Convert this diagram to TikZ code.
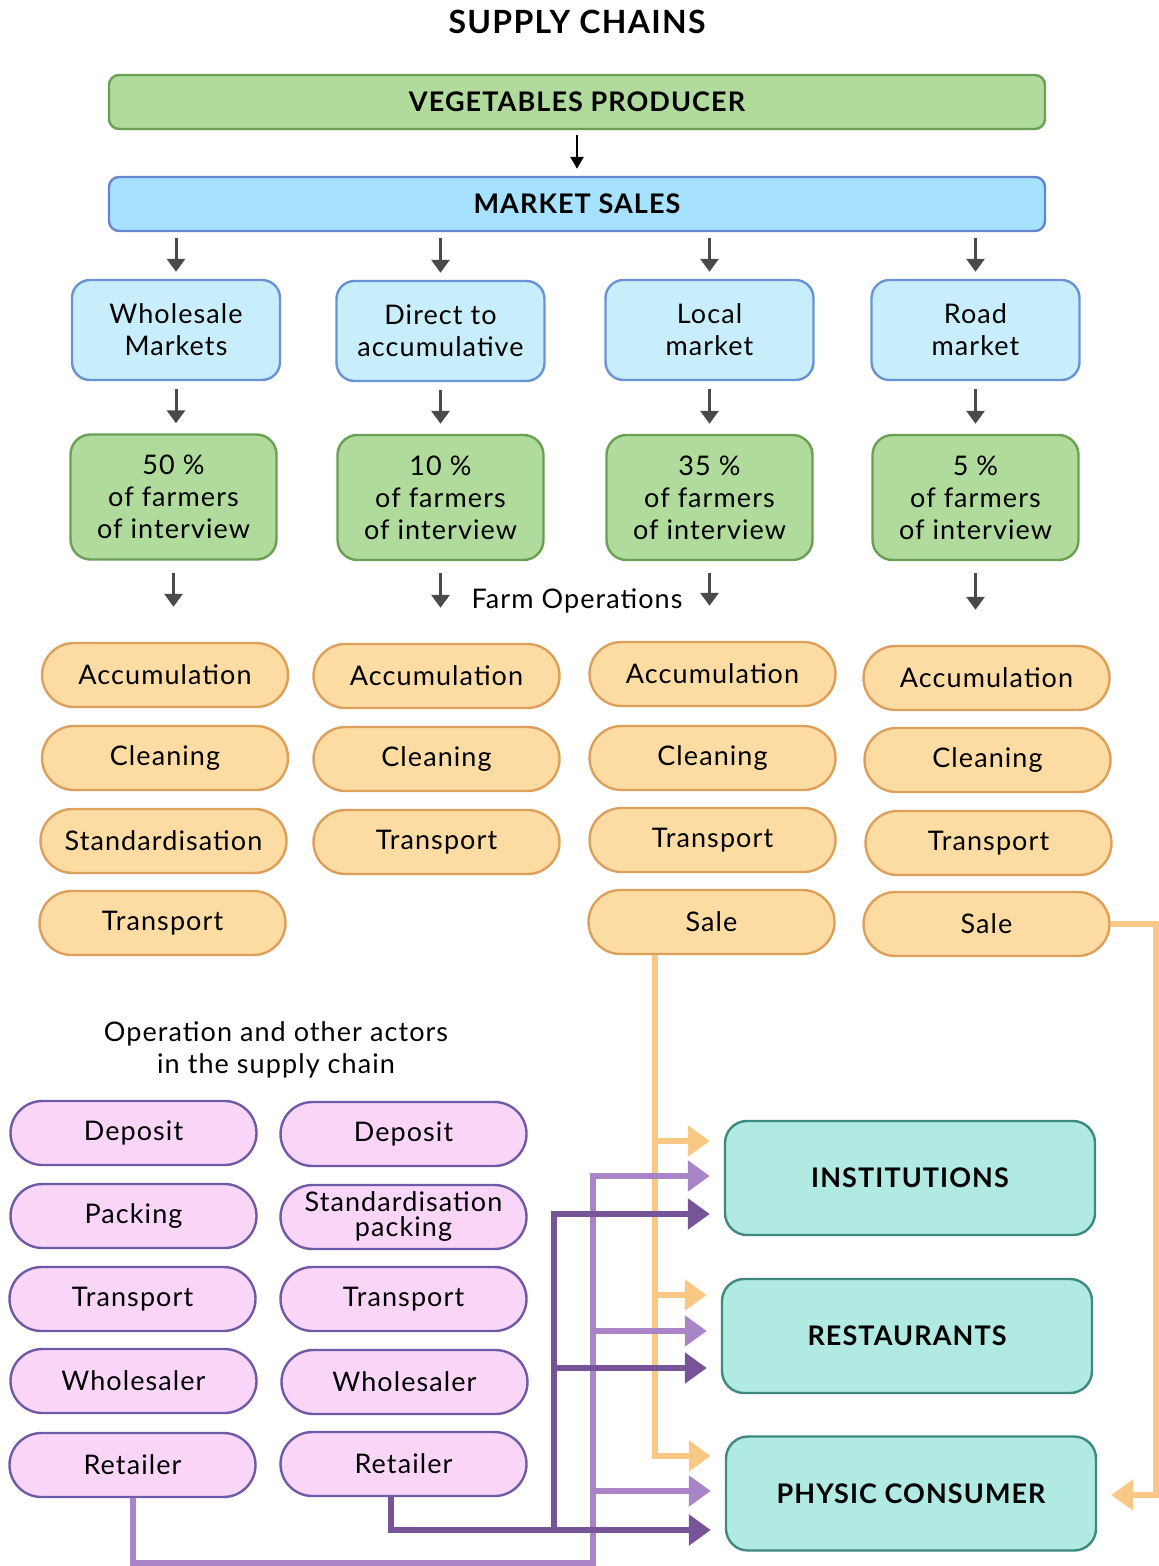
\documentclass[tikz,border=0pt]{standalone}
\usepackage{fontspec}
\setmainfont{Lato}[LetterSpace=4]
\usetikzlibrary{arrows.meta}

\definecolor{prodgreen}{HTML}{B0DB9C}
\definecolor{prodline}{HTML}{6BA054}
\definecolor{salesblue}{HTML}{A6E2FD}
\definecolor{salesline}{HTML}{6586CC}
\definecolor{chanblue}{HTML}{C8EEFC}
\definecolor{chanline}{HTML}{6A93D6}
\definecolor{opfill}{HTML}{FDDCA4}
\definecolor{opline}{HTML}{DDA05A}
\definecolor{actorfill}{HTML}{F9D6F8}
\definecolor{actorline}{HTML}{6E5AA6}
\definecolor{buyerfill}{HTML}{B0EAE3}
\definecolor{buyerline}{HTML}{3E8A80}
\definecolor{saleorange}{HTML}{F8C884}
\definecolor{retpurple}{HTML}{A984C6}
\definecolor{wspurple}{HTML}{775497}
\definecolor{arrowgray}{HTML}{4A4A4A}

\begin{document}
\begin{tikzpicture}[x=0.5pt, y=-0.5pt,
  every node/.style={font=\fontsize{13.5}{16}\selectfont, align=center, text=black},
  bar/.style={line width=1.2pt, rounded corners=5pt, minimum width=468pt, minimum height=27pt,
    font=\fontsize{13.5}{16}\selectfont\bfseries},
  channel/.style={fill=chanblue, draw=chanline, line width=1.2pt, rounded corners=9pt,
    minimum width=104pt, minimum height=50pt},
  share/.style={fill=prodgreen, draw=prodline, line width=1.2pt, rounded corners=10pt,
    minimum width=103pt, minimum height=62.5pt},
  op/.style={fill=opfill, draw=opline, line width=1.2pt, rounded corners=16pt,
    minimum width=123pt, minimum height=32pt},
  actor/.style={fill=actorfill, draw=actorline, line width=1.2pt, rounded corners=16pt,
    minimum width=123pt, minimum height=32pt},
  buyer/.style={fill=buyerfill, draw=buyerline, line width=1.2pt, rounded corners=11pt,
    minimum width=185pt, minimum height=57pt, font=\fontsize{13.5}{16}\selectfont\bfseries},
  grayarrow/.style={-{Triangle[length=6.5pt, width=9pt]}, arrowgray, line width=1.5pt},
  saleflow/.style={-{Triangle[length=11pt, width=15pt]}, saleorange, line width=3pt, shorten >=7pt},
  retflow/.style={-{Triangle[length=11pt, width=15pt]}, retpurple, line width=3pt, shorten >=7pt},
  wsflow/.style={-{Triangle[length=11pt, width=15pt]}, wspurple, line width=3pt, shorten >=7pt}]

  \useasboundingbox (0,0) rectangle (1159,1566);

  % Title
  \node[font=\fontsize{16}{18}\selectfont\bfseries] (title) at (577,22) {SUPPLY CHAINS};

  % Producer and market
  \node[bar, fill=prodgreen, draw=prodline] (prod) at (577,102) {VEGETABLES PRODUCER};
  \node[bar, fill=salesblue, draw=salesline] (sales) at (577,204) {MARKET SALES};
  \draw[-{Triangle[length=6pt, width=6.5pt]}, line width=1.3pt, shorten <=2.5pt, shorten >=3.5pt] (prod) -- (sales);

  % Sales channels
  \node[channel] (whole) at (176,330) {Wholesale\\Markets};
  \node[channel] (direct) at (440.5,331) {Direct to\\accumulative};
  \node[channel] (local) at (709.5,330) {Local\\market};
  \node[channel] (road) at (975.5,330) {Road\\market};

  \draw[grayarrow, shorten <=3pt, shorten >=3.5pt] (whole.north |- sales.south) -- (whole.north);
  \draw[grayarrow, shorten <=3pt, shorten >=3.5pt] (direct.north |- sales.south) -- (direct.north);
  \draw[grayarrow, shorten <=3pt, shorten >=3.5pt] (local.north |- sales.south) -- (local.north);
  \draw[grayarrow, shorten <=3pt, shorten >=3.5pt] (road.north |- sales.south) -- (road.north);

  % Share of farmers
  \node[share] (share1) at (173.5,497) {50 \%\\of farmers\\of interview};
  \node[share] (share2) at (440.5,497.5) {10 \%\\of farmers\\of interview};
  \node[share] (share3) at (709.5,497.5) {35 \%\\of farmers\\of interview};
  \node[share] (share4) at (975.5,497.5) {5 \%\\of farmers\\of interview};

  \draw[grayarrow, shorten <=4pt, shorten >=5pt] (whole.south) -- (whole.south |- share1.north);
  \draw[grayarrow, shorten <=4pt, shorten >=5pt] (direct.south) -- (direct.south |- share2.north);
  \draw[grayarrow, shorten <=4pt, shorten >=5pt] (local.south) -- (local.south |- share3.north);
  \draw[grayarrow, shorten <=4pt, shorten >=5pt] (road.south) -- (road.south |- share4.north);

  % Farm operations
  \node (farmops) at (577,601) {Farm Operations};

  \node[op] (acc1) at (165,675) {Accumulation};
  \node[op] (clean1) at (165,758) {Cleaning};
  \node[op] (std1) at (163.5,841) {Standardisation};
  \node[op] (trans1) at (162.5,923) {Transport};

  \node[op] (acc2) at (436.5,676) {Accumulation};
  \node[op] (clean2) at (436.5,759) {Cleaning};
  \node[op] (trans2) at (436.5,842) {Transport};

  \node[op] (acc3) at (712.5,674) {Accumulation};
  \node[op] (clean3) at (712.5,758) {Cleaning};
  \node[op] (trans3) at (712.5,840) {Transport};
  \node[op] (sale3) at (711.5,922) {Sale};

  \node[op] (acc4) at (986.5,678) {Accumulation};
  \node[op] (clean4) at (987.5,760) {Cleaning};
  \node[op] (trans4) at (988.5,843) {Transport};
  \node[op] (sale4) at (986.5,924) {Sale};

  \draw[grayarrow, shorten <=6pt, shorten >=17.5pt] (share1.south) -- (share1.south |- acc1.north);
  \draw[grayarrow, shorten <=6pt, shorten >=17.5pt] (share2.south) -- (share2.south |- acc2.north);
  \draw[grayarrow, shorten <=6pt, shorten >=17.5pt] (share3.south) -- (share3.south |- acc3.north);
  \draw[grayarrow, shorten <=6pt, shorten >=17.5pt] (share4.south) -- (share4.south |- acc4.north);

  % Other actors
  \node (actors) at (276,1050) {Operation and other actors\\in the supply chain};

  \node[actor] (dep1) at (133.5,1133) {Deposit};
  \node[actor] (pack1) at (133.5,1216) {Packing};
  \node[actor] (tra1) at (132.5,1299) {Transport};
  \node[actor] (whs1) at (133.5,1381) {Wholesaler};
  \node[actor] (ret1) at (132.5,1465) {Retailer};

  \node[actor] (dep2) at (403.5,1134) {Deposit};
  \node[actor, font=\fontsize{13.5}{12.5}\selectfont] (stdpack2) at (403.5,1217) {Standardisation\\packing};
  \node[actor] (tra2) at (403.5,1299) {Transport};
  \node[actor] (whs2) at (404.5,1382) {Wholesaler};
  \node[actor] (ret2) at (403.5,1464) {Retailer};

  % Final buyers
  \node[buyer] (inst) at (910,1178) {INSTITUTIONS};
  \node[buyer] (rest) at (907,1336) {RESTAURANTS};
  \node[buyer] (phys) at (911,1493.5) {PHYSIC CONSUMER};

  % Flows from farm sales
  \coordinate (oi) at (655,1141);
  \coordinate (or) at (655,1295);
  \coordinate (op) at (655,1456);
  \coordinate (oe) at (1156,1495);
  \draw[saleflow] (sale3.south -| op) -- (op) -- (op -| phys.west);
  \draw[saleflow] (oi) -- (oi -| inst.west);
  \draw[saleflow] (or) -- (or -| rest.west);
  \draw[saleflow] (sale4.east) -- (sale4.east -| oe) -- (oe) -- (oe -| phys.east);

  % Flows from retailers
  \coordinate (lb) at (593,1563);
  \coordinate (li) at (593,1176);
  \coordinate (lr) at (593,1331);
  \coordinate (lp) at (593,1491);
  \draw[retflow] (ret1.south) -- (ret1.south |- lb) -- (lb) -- (li) -- (li -| inst.west);
  \draw[retflow] (lr) -- (lr -| rest.west);
  \draw[retflow] (lp) -- (lp -| phys.west);

  \coordinate (db) at (391,1530);
  \coordinate (dj) at (554,1530);
  \coordinate (di) at (554,1214);
  \coordinate (dr) at (554,1368);
  \draw[wsflow] (ret2.south -| db) -- (db) -- (db -| phys.west);
  \draw[wsflow] (dj) -- (di) -- (di -| inst.west);
  \draw[wsflow] (dr) -- (dr -| rest.west);

\end{tikzpicture}
\end{document}
